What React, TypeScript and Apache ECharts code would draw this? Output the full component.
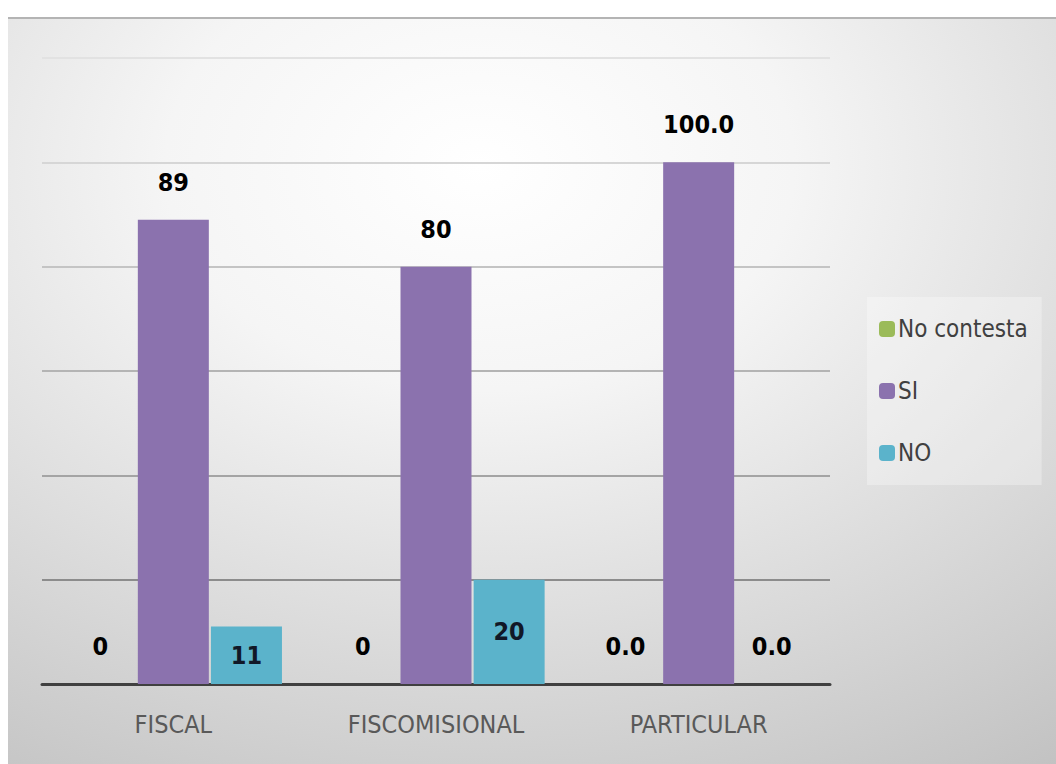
import React, { useEffect, useRef } from "react";
import * as echarts from "echarts";

const categories = ["FISCAL", "FISCOMISIONAL", "PARTICULAR"];
const seriesNames = ["No contesta", "SI", "NO"];
const noContesta = [0, 0, 0];
const si = [89, 80, 100];
const no = [11, 20, 0];
const labelDecimals = [0, 0, 1];
const yTicks = [0, 20, 40, 60, 80, 100, 120];

const FONT = "'Liberation Sans Narrow', 'DejaVu Sans Condensed', 'Open Sans', sans-serif";

export default function App() {
  const ref = useRef<HTMLDivElement>(null);
  useEffect(() => {
    if (!ref.current) return;
    const chart = echarts.init(ref.current, null, { renderer: "svg" });
    const fmt = (p: any) => Number(p.value).toFixed(labelDecimals[p.dataIndex]);
    const topLabel = {
      show: true,
      position: "top",
      distance: 25,
      formatter: fmt,
      color: "#000000",
      fontFamily: FONT,
      fontWeight: "bold",
      fontSize: 25,
    };
    const noData = no.map((v) =>
      v === 0
        ? { value: v, label: { ...topLabel } }
        : { value: v }
    );
    chart.setOption({
      animation: false,
      graphic: [
        {
          type: "rect",
          silent: true,
          z: -10,
          shape: { x: 8, y: 17, width: 1048, height: 747 },
          style: {
            fill: {
              type: "radial",
              x: 0.45,
              y: 0.2,
              r: 1.0,
              colorStops: [
                { offset: 0, color: "#ffffff" },
                { offset: 0.3, color: "#f5f5f5" },
                { offset: 1, color: "#c0c0c0" },
              ],
            },
          },
        },
        {
          type: "line",
          silent: true,
          z: -9,
          shape: { x1: 8, y1: 18, x2: 1056, y2: 18 },
          style: { stroke: "#b4b4b4", lineWidth: 2 },
        },
      ],
      grid: { left: 42, right: 226, top: 58, bottom: 80, containLabel: false },
      legend: {
        orient: "vertical",
        left: 867,
        top: 297,
        width: 180,
        padding: [20, 14, 20, 12],
        itemGap: 38,
        itemWidth: 16,
        itemHeight: 16,
        backgroundColor: "rgba(255,255,255,0.3)",
        data: seriesNames,
        textStyle: { fontFamily: FONT, fontSize: 24, color: "#404040", padding: [0, 0, 0, -2] },
      },
      xAxis: {
        type: "category",
        data: categories,
        axisLine: { show: true, lineStyle: { color: "#404040", width: 3 } },
        axisTick: { show: false },
        axisLabel: { fontFamily: FONT, fontSize: 25, color: "#595959", margin: 28 },
      },
      yAxis: {
        type: "value",
        min: yTicks[0],
        max: yTicks[yTicks.length - 1],
        interval: 20,
        axisLabel: { show: false },
        axisLine: { show: false },
        axisTick: { show: false },
        splitLine: {
          lineStyle: {
            width: 2,
            color: ["#404040", "#8c8c8c", "#a4a4a4", "#b4b4b4", "#c4c4c4", "#d6d6d6", "#e2e2e2"],
          },
        },
      },
      series: [
        {
          name: seriesNames[0],
          type: "bar",
          data: noContesta,
          barWidth: 71,
          barGap: "3%",
          itemStyle: { color: "#9bbb59" },
          label: topLabel,
        },
        {
          name: seriesNames[1],
          type: "bar",
          data: si,
          barWidth: 71,
          barGap: "3%",
          itemStyle: { color: "#8b72ae" },
          label: topLabel,
        },
        {
          name: seriesNames[2],
          type: "bar",
          data: noData,
          barWidth: 71,
          barGap: "3%",
          itemStyle: { color: "#5bb3cb" },
          label: {
            show: true,
            position: "inside",
            formatter: fmt,
            color: "#111827",
            fontFamily: FONT,
            fontWeight: "bold",
            fontSize: 25,
          },
        },
      ],
    });
    return () => chart.dispose();
  }, []);
  return (
    <div
      ref={ref}
      style={{ position: "absolute", left: 0, top: 0, width: 1056, height: 764, background: "#ffffff" }}
    />
  );
}
